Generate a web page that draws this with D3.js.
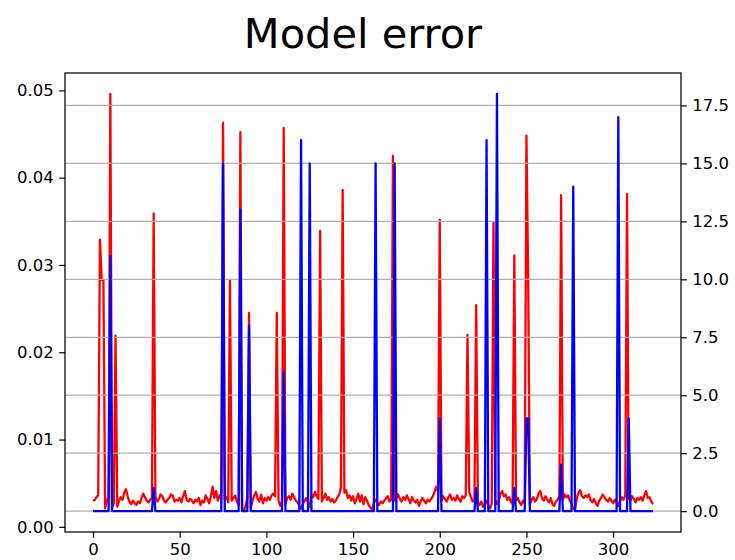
<!DOCTYPE html>
<html>
<head>
<meta charset="utf-8">
<script src="https://cdn.jsdelivr.net/npm/d3@7/dist/d3.min.js"></script>
<style>
  body { margin: 0; background: #fff; }
  svg { font-family: "DejaVu Sans", sans-serif; }
</style>
</head>
<body>
<svg id="chart" width="735" height="560"></svg>
<script>
// red series (left axis), one value per step
const errorValues = [
  0.0030, 0.0031, 0.0034, 0.0036, 0.0329, 0.0283, 0.0283, 0.0021, 0.0030, 0.0034, 0.0496, 0.0022, 0.0027, 0.0219, 0.0023, 0.0030, 0.0034, 0.0031, 0.0039, 0.0043,
  0.0035, 0.0029, 0.0026, 0.0030, 0.0027, 0.0025, 0.0029, 0.0027, 0.0033, 0.0038, 0.0034, 0.0030, 0.0028, 0.0031, 0.0033, 0.0359, 0.0034, 0.0029, 0.0032, 0.0037,
  0.0035, 0.0030, 0.0028, 0.0031, 0.0033, 0.0037, 0.0036, 0.0029, 0.0031, 0.0030, 0.0033, 0.0028, 0.0035, 0.0041, 0.0031, 0.0029, 0.0032, 0.0030, 0.0027, 0.0031,
  0.0029, 0.0033, 0.0025, 0.0030, 0.0028, 0.0036, 0.0032, 0.0027, 0.0035, 0.0046, 0.0033, 0.0041, 0.0030, 0.0036, 0.0032, 0.0463, 0.0031, 0.0034, 0.0028, 0.0282,
  0.0030, 0.0033, 0.0036, 0.0029, 0.0025, 0.0452, 0.0020, 0.0018, 0.0024, 0.0033, 0.0245, 0.0022, 0.0030, 0.0036, 0.0040, 0.0032, 0.0029, 0.0037, 0.0027, 0.0033,
  0.0030, 0.0034, 0.0031, 0.0036, 0.0038, 0.0035, 0.0245, 0.0030, 0.0024, 0.0029, 0.0457, 0.0026, 0.0033, 0.0035, 0.0031, 0.0038, 0.0034, 0.0030, 0.0028, 0.0024,
  0.0021, 0.0026, 0.0030, 0.0033, 0.0027, 0.0023, 0.0036, 0.0034, 0.0040, 0.0035, 0.0032, 0.0339, 0.0029, 0.0033, 0.0038, 0.0031, 0.0034, 0.0029, 0.0032, 0.0028,
  0.0030, 0.0034, 0.0037, 0.0045, 0.0386, 0.0039, 0.0042, 0.0033, 0.0036, 0.0030, 0.0035, 0.0027, 0.0032, 0.0038, 0.0029, 0.0036, 0.0026, 0.0034, 0.0030, 0.0025,
  0.0022, 0.0020, 0.0027, 0.0031, 0.0028, 0.0025, 0.0029, 0.0027, 0.0030, 0.0033, 0.0035, 0.0029, 0.0031, 0.0425, 0.0030, 0.0033, 0.0037, 0.0032, 0.0029, 0.0034,
  0.0031, 0.0036, 0.0032, 0.0027, 0.0034, 0.0030, 0.0028, 0.0031, 0.0024, 0.0029, 0.0033, 0.0030, 0.0027, 0.0031, 0.0029, 0.0032, 0.0035, 0.0040, 0.0046, 0.0041,
  0.0352, 0.0030, 0.0035, 0.0032, 0.0029, 0.0034, 0.0037, 0.0031, 0.0033, 0.0030, 0.0036, 0.0032, 0.0029, 0.0035, 0.0033, 0.0036, 0.0220, 0.0040, 0.0034, 0.0029,
  0.0031, 0.0254, 0.0028, 0.0025, 0.0029, 0.0023, 0.0026, 0.0030, 0.0024, 0.0021, 0.0027, 0.0349, 0.0031, 0.0026, 0.0029, 0.0038, 0.0041, 0.0035, 0.0037, 0.0031,
  0.0034, 0.0029, 0.0026, 0.0311, 0.0030, 0.0033, 0.0028, 0.0025, 0.0030, 0.0027, 0.0448, 0.0284, 0.0026, 0.0031, 0.0034, 0.0029, 0.0032, 0.0038, 0.0041, 0.0033,
  0.0030, 0.0035, 0.0031, 0.0028, 0.0033, 0.0026, 0.0024, 0.0029, 0.0031, 0.0035, 0.0380, 0.0031, 0.0037, 0.0034, 0.0036, 0.0030, 0.0027, 0.0021, 0.0019, 0.0032,
  0.0039, 0.0042, 0.0035, 0.0033, 0.0036, 0.0034, 0.0037, 0.0031, 0.0028, 0.0032, 0.0027, 0.0024, 0.0030, 0.0033, 0.0037, 0.0034, 0.0031, 0.0029, 0.0033, 0.0030,
  0.0027, 0.0031, 0.0028, 0.0024, 0.0030, 0.0034, 0.0031, 0.0036, 0.0381, 0.0033, 0.0030, 0.0035, 0.0032, 0.0028, 0.0033, 0.0031, 0.0034, 0.0030, 0.0036, 0.0041,
  0.0033, 0.0034, 0.0029, 0.0026
];

// blue series (right axis)
const countValues = [
  0, 0, 0, 0, 0, 0, 0, 0, 0, 0, 11, 0, 0, 0, 0, 0, 0, 0, 0, 0,
  0, 0, 0, 0, 0, 0, 0, 0, 0, 0, 0, 0, 0, 0, 0, 1, 0, 0, 0, 0,
  0, 0, 0, 0, 0, 0, 0, 0, 0, 0, 0, 0, 0, 0, 0, 0, 0, 0, 0, 0,
  0, 0, 0, 0, 0, 0, 0, 0, 0, 0, 0, 0, 0, 0, 0, 15, 0, 0, 0, 0,
  0, 0, 0, 0, 0, 13, 0, 0, 0, 0, 8, 0, 0, 0, 0, 0, 0, 0, 0, 0,
  0, 0, 0, 0, 0, 0, 0, 0, 0, 0, 6, 0, 0, 0, 0, 0, 0, 0, 0, 0,
  16, 0, 0, 0, 0, 15, 0, 0, 0, 0, 0, 0, 0, 0, 0, 0, 0, 0, 0, 0,
  0, 0, 0, 0, 0, 0, 0, 0, 0, 0, 0, 0, 0, 0, 0, 0, 0, 0, 0, 0,
  0, 0, 0, 15, 0, 0, 0, 0, 0, 0, 0, 0, 0, 0, 15, 0, 0, 0, 0, 0,
  0, 0, 0, 0, 0, 0, 0, 0, 0, 0, 0, 0, 0, 0, 0, 0, 0, 0, 0, 0,
  4, 0, 0, 0, 0, 0, 0, 0, 0, 0, 0, 0, 0, 0, 0, 0, 0, 0, 0, 0,
  0, 1, 0, 0, 0, 0, 0, 16, 0, 0, 0, 0, 0, 18, 0, 0, 0, 0, 0, 0,
  0, 0, 0, 1, 0, 0, 0, 0, 0, 0, 4, 4, 0, 0, 0, 0, 0, 0, 0, 0,
  0, 0, 0, 0, 0, 0, 0, 0, 0, 0, 2, 0, 0, 0, 0, 0, 0, 14, 0, 0,
  0, 0, 0, 0, 0, 0, 0, 0, 0, 0, 0, 0, 0, 0, 0, 0, 0, 0, 0, 0,
  0, 0, 0, 17, 0, 0, 0, 0, 0, 4, 0, 0, 0, 0, 0, 0, 0, 0, 0, 0,
  0, 0, 0, 0
];

const xTicks = [0, 50, 100, 150, 200, 250, 300];
const leftTicks = [0.00, 0.01, 0.02, 0.03, 0.04, 0.05];
const rightTicks = [0, 2.5, 5, 7.5, 10, 12.5, 15, 17.5];
const titleText = "Model error";

const width = 735, height = 560;
const plot = { left: 65, right: 681, top: 73, bottom: 532 };
const tickLen = 5.8, tickPad = 5.4, fontSize = 16.5;

// matplotlib style 5% margins
function padded(lo, hi) {
  const m = (hi - lo) * 0.05;
  return [lo - m, hi + m];
}

const n = errorValues.length;
const x = d3.scaleLinear().domain(padded(0, n - 1)).range([plot.left, plot.right]);
const yLeft = d3.scaleLinear().domain(padded(d3.min(errorValues), d3.max(errorValues))).range([plot.bottom, plot.top]);
const yRight = d3.scaleLinear().domain(padded(d3.min(countValues), d3.max(countValues))).range([plot.bottom, plot.top]);

const svg = d3.select("#chart");
svg.append("rect").attr("width", width).attr("height", height).attr("fill", "#fff");

svg.append("defs").append("clipPath").attr("id", "plotclip")
  .append("rect")
  .attr("x", plot.left).attr("y", plot.top)
  .attr("width", plot.right - plot.left).attr("height", plot.bottom - plot.top);

const lineLeft = d3.line().x((d, i) => x(i)).y(d => yLeft(d));
const lineRight = d3.line().x((d, i) => x(i)).y(d => yRight(d));

const body = svg.append("g").attr("clip-path", "url(#plotclip)");

// red line
body.append("path")
  .datum(errorValues)
  .attr("d", lineLeft)
  .attr("fill", "none")
  .attr("stroke", "#ff0000")
  .attr("stroke-width", 2.3)
  .attr("stroke-linejoin", "round");

// grid from the right axis
body.append("g")
  .selectAll("line")
  .data(rightTicks)
  .enter()
  .append("line")
  .attr("x1", plot.left).attr("x2", plot.right)
  .attr("y1", d => yRight(d)).attr("y2", d => yRight(d))
  .attr("stroke", "#b0b0b0")
  .attr("stroke-width", 1.25);

// blue line
body.append("path")
  .datum(countValues)
  .attr("d", lineRight)
  .attr("fill", "none")
  .attr("stroke", "#0000ff")
  .attr("stroke-width", 2.3)
  .attr("stroke-linejoin", "round");

// axes
function styleAxis(g) {
  g.select(".domain").remove();
  g.selectAll(".tick line").attr("stroke", "#000").attr("stroke-width", 1.2);
  g.selectAll(".tick text").attr("fill", "#000").style("font-size", fontSize + "px")
    .style("font-family", "DejaVu Sans");
}

svg.append("g")
  .attr("transform", `translate(0,${plot.bottom})`)
  .call(d3.axisBottom(x).tickValues(xTicks).tickFormat(d3.format("d"))
    .tickSize(tickLen).tickPadding(tickPad))
  .call(styleAxis);

svg.append("g")
  .attr("transform", `translate(${plot.left},0)`)
  .call(d3.axisLeft(yLeft).tickValues(leftTicks).tickFormat(d3.format(".2f"))
    .tickSize(tickLen).tickPadding(tickPad))
  .call(styleAxis);

svg.append("g")
  .attr("transform", `translate(${plot.right},0)`)
  .call(d3.axisRight(yRight).tickValues(rightTicks).tickFormat(d3.format(".1f"))
    .tickSize(tickLen).tickPadding(tickPad))
  .call(styleAxis);

// frame
svg.append("rect")
  .attr("x", plot.left).attr("y", plot.top)
  .attr("width", plot.right - plot.left).attr("height", plot.bottom - plot.top)
  .attr("fill", "none")
  .attr("stroke", "#000")
  .attr("stroke-width", 1.25);

// title sits a little left of the axes centre in the reference
svg.append("text")
  .attr("x", 363)
  .attr("y", 48)
  .attr("text-anchor", "middle")
  .style("font-size", "41.5px")
  .style("font-family", "DejaVu Sans")
  .attr("fill", "#000")
  .text(titleText);
</script>
</body>
</html>
